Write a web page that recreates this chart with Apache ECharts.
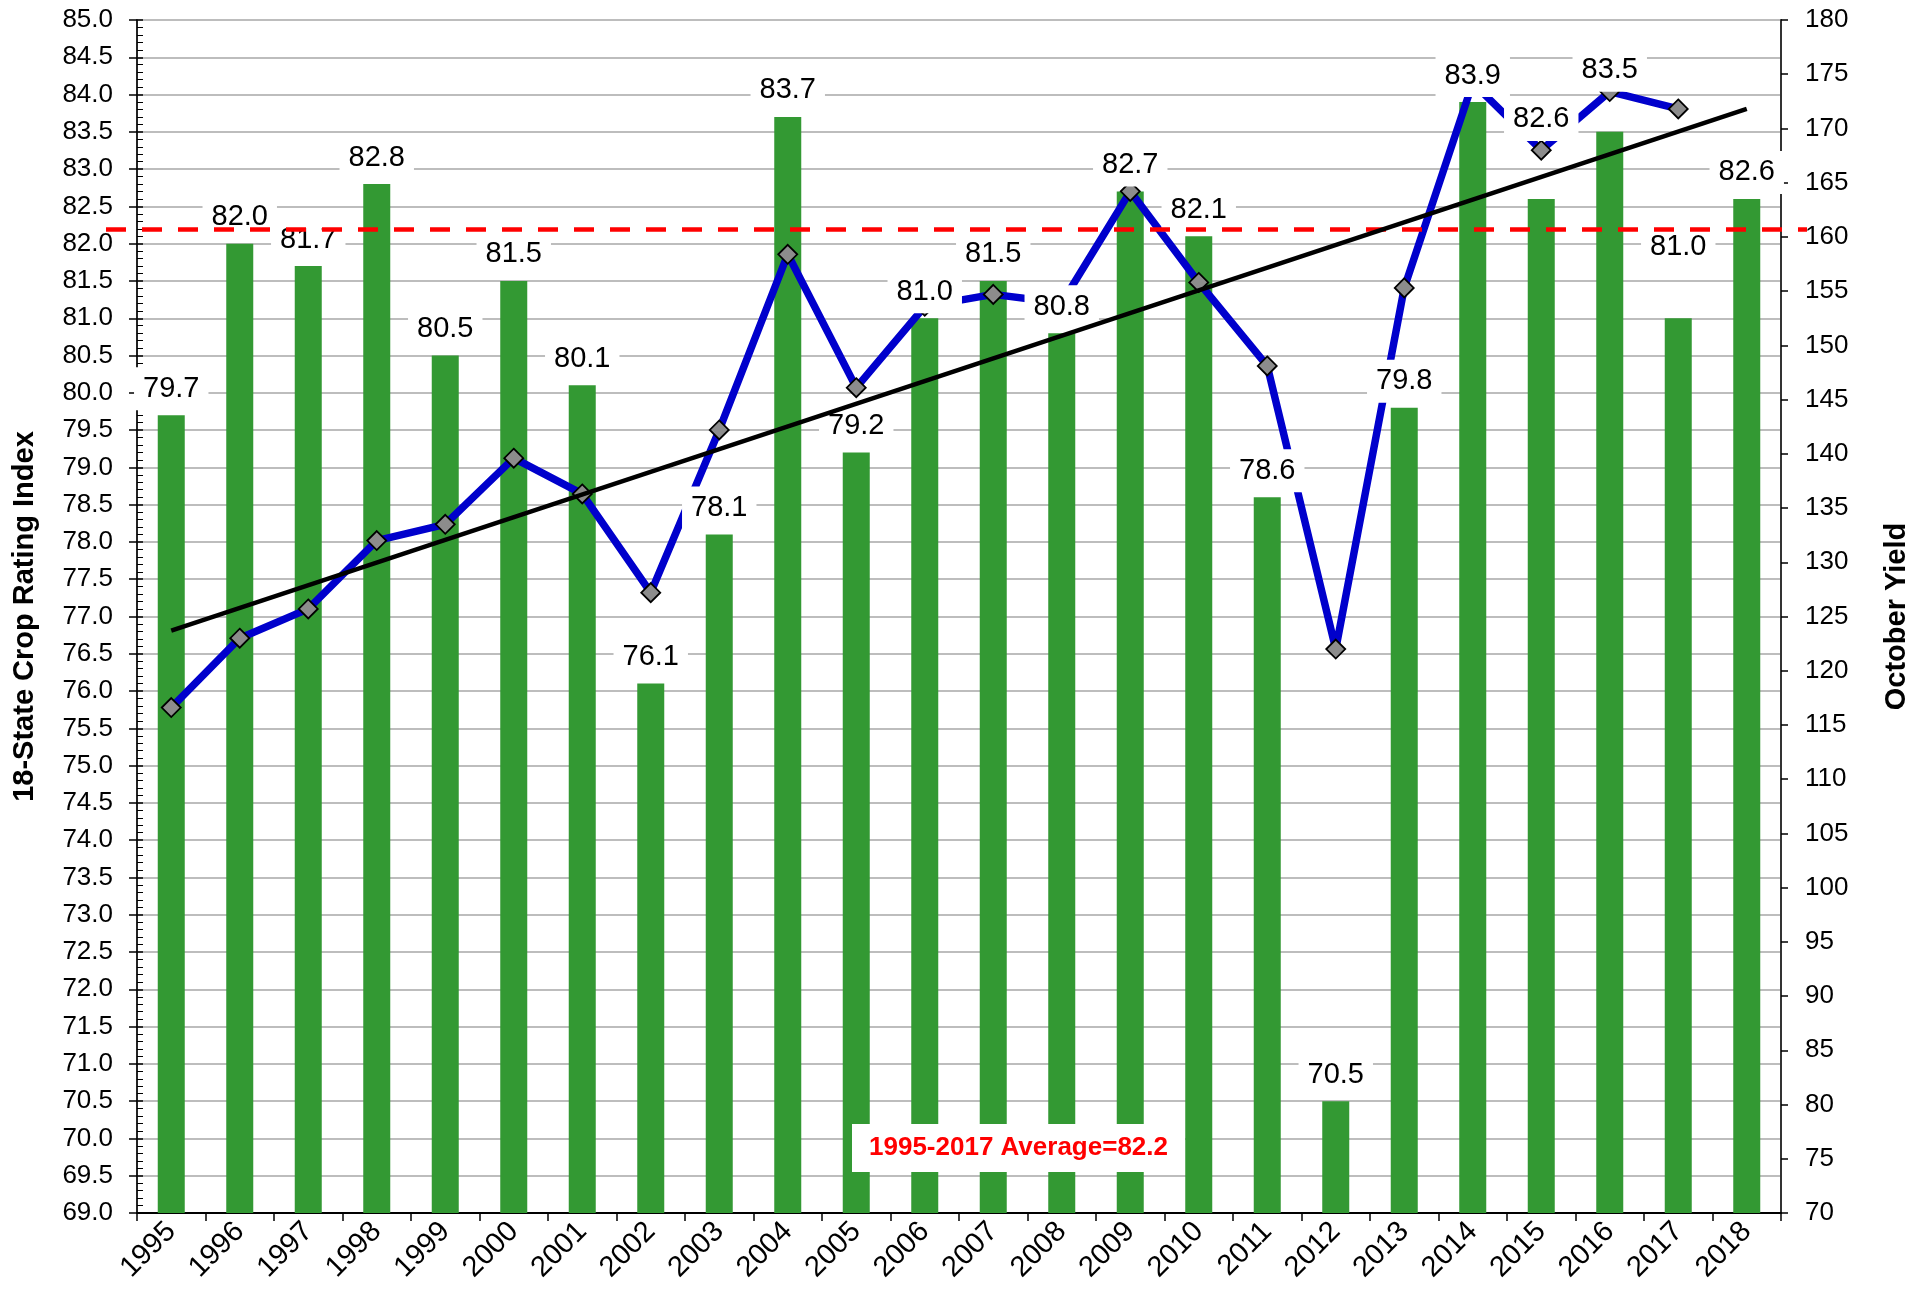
<!DOCTYPE html>
<html>
<head>
<meta charset="utf-8">
<title>18-State Crop Rating Index vs October Yield</title>
<script src="https://cdn.jsdelivr.net/npm/echarts@6/dist/echarts.min.js"></script>
<style>
    html, body { margin: 0; padding: 0; background: #fff; }
    #main { width: 1931px; height: 1297px; }
</style>
</head>
<body>
<div id="main"></div>
<script>
// chart data
var years = ['1995', '1996', '1997', '1998', '1999', '2000', '2001', '2002', '2003', '2004', '2005', '2006',
    '2007', '2008', '2009', '2010', '2011', '2012', '2013', '2014', '2015', '2016', '2017', '2018'];
var ratingIndex = [79.7, 82.0, 81.7, 82.8, 80.5, 81.5, 80.1, 76.1, 78.1, 83.7, 79.2, 81.0,
    81.5, 80.8, 82.7, 82.1, 78.6, 70.5, 79.8, 83.9, 82.6, 83.5, 81.0, 82.6];
var octoberYield = [116.6, 123.0, 125.7, 132.0, 133.5, 139.6, 136.3, 127.2, 142.2, 158.4, 146.1, 153.6,
    154.7, 153.9, 164.2, 155.8, 148.1, 122.0, 155.3, 174.2, 168.0, 173.4, 171.8, null];
var trendEnds = [123.7, 171.8];   // yield trend at 1995 and at 2018
var averageIndex = 82.2;
var indexScale = [69, 85, 0.5];   // min, max, step
var yieldScale = [70, 180, 5];

(function (obj) {
    var FONT = '"Liberation Sans", Arial, sans-serif';
    // a few labels sit higher in the original so they clear the yield line
    var labelRaise = { '2015': 53, '2016': 35, '2017': 45 };

    var labelData = ratingIndex.map(function (v, i) {
        var item = { value: v };
        if (labelRaise[years[i]]) {
            item.label = { offset: [0, -labelRaise[years[i]]] };
        }
        return item;
    });
    var trendData = years.map(function (y, i) {
        if (i === 0) return trendEnds[0];
        if (i === years.length - 1) return trendEnds[1];
        return null;
    });

    var myChart = echarts.init(document.getElementById('main'));
    var option = {
        animation: false,
        backgroundColor: '#ffffff',
        textStyle: { fontFamily: FONT },
        grid: {
            left: 137, right: 150, top: 20, bottom: 84,
            show: true, borderColor: '#8c8c8c', borderWidth: 2
        },
        xAxis: [{
            type: 'category',
            data: years,
            boundaryGap: true,
            axisLine: { lineStyle: { color: '#000', width: 2 } },
            axisTick: { show: true, interval: 0, length: 8, lineStyle: { color: '#000', width: 1.5 } },
            axisLabel: { interval: 0, rotate: 45, fontSize: 29, color: '#000', margin: 14, fontFamily: FONT },
            splitLine: { show: false }
        }],
        yAxis: [
            {
                type: 'value',
                position: 'left',
                min: indexScale[0], max: indexScale[1], interval: indexScale[2],
                name: '18-State Crop Rating Index',
                nameLocation: 'middle',
                nameRotate: 90,
                nameGap: 98,
                nameTextStyle: { fontSize: 29, fontWeight: 'bold', color: '#000', fontFamily: FONT },
                axisLine: { show: true, lineStyle: { color: '#000', width: 1.5 } },
                axisTick: { show: true, length: 8, lineStyle: { color: '#000', width: 1.5 } },
                axisLabel: {
                    fontSize: 26, color: '#000', margin: 24, fontFamily: FONT,
                    formatter: function (v) { return v.toFixed(1); }
                },
                splitLine: { show: true, lineStyle: { color: '#bdbdbd', width: 2 } }
            },
            {
                type: 'value',
                position: 'right',
                min: yieldScale[0], max: yieldScale[1], interval: yieldScale[2],
                name: 'October Yield',
                nameLocation: 'middle',
                nameRotate: 90,
                nameGap: 101,
                nameTextStyle: { fontSize: 29, fontWeight: 'bold', color: '#000', fontFamily: FONT },
                axisLine: { show: true, lineStyle: { color: '#333', width: 2 } },
                axisTick: { show: true, length: 7, lineStyle: { color: '#000', width: 1.5 } },
                axisLabel: { fontSize: 26, color: '#000', margin: 24, fontFamily: FONT },
                splitLine: { show: false }
            },
            {
                // inner half of the crossing ticks plus the 0.1 minor ticks
                type: 'value',
                position: 'left',
                min: indexScale[0], max: indexScale[1], interval: indexScale[2],
                axisLine: { show: false },
                axisTick: { show: true, inside: true, length: 6, lineStyle: { color: '#000', width: 1.5 } },
                minorTick: { show: true, splitNumber: 5, length: 6, lineStyle: { color: '#000', width: 1 } },
                axisLabel: { show: false },
                splitLine: { show: false }
            }
        ],
        series: [
            {
                name: 'Crop Rating Index',
                type: 'bar',
                yAxisIndex: 0,
                z: 2,
                barWidth: 27,
                data: ratingIndex,
                itemStyle: { color: '#339933' },
                label: { show: false }
            },
            {
                name: 'October Yield',
                type: 'line',
                yAxisIndex: 1,
                z: 3,
                data: octoberYield,
                symbol: 'diamond',
                symbolSize: 19,
                itemStyle: { color: '#8c8c8c', borderColor: '#000', borderWidth: 1.8 },
                lineStyle: { color: '#0000cc', width: 7.5 }
            },
            {
                // transparent twin of the bars, only to carry the value labels above the yield line
                name: 'labels',
                type: 'bar',
                yAxisIndex: 0,
                z: 4,
                silent: true,
                barWidth: 27,
                barGap: '-100%',
                data: labelData,
                itemStyle: { color: 'rgba(0,0,0,0)' },
                label: {
                    show: true,
                    position: 'top',
                    distance: 5,
                    fontSize: 29,
                    lineHeight: 29,
                    color: '#000',
                    fontFamily: FONT,
                    backgroundColor: '#fff',
                    padding: [7, 9],
                    formatter: function (p) { return p.value.toFixed(1); }
                },
                markLine: {
                    silent: true,
                    symbol: 'none',
                    label: { show: false },
                    lineStyle: { color: '#ff0000', width: 4.5, type: [20, 16] },
                    data: [[{ x: 106, yAxis: averageIndex }, { x: 1807, yAxis: averageIndex }]]
                }
            },
            {
                name: 'Trend',
                type: 'line',
                yAxisIndex: 1,
                z: 5,
                data: trendData,
                connectNulls: true,
                showSymbol: false,
                symbol: 'none',
                lineStyle: { color: '#000', width: 4.5 }
            }
        ],
        graphic: [{
            type: 'text',
            left: 852,
            top: 1124,
            z: 100,
            style: {
                text: '1995-2017 Average=' + averageIndex.toFixed(1),
                font: 'bold 26px ' + FONT,
                fill: '#ff0000',
                backgroundColor: '#ffffff',
                padding: [11, 17]
            }
        }]
    };
    myChart.clear();
    myChart.setOption(option);
    obj.myChart = myChart;
})(window);
</script>
</body>
</html>
